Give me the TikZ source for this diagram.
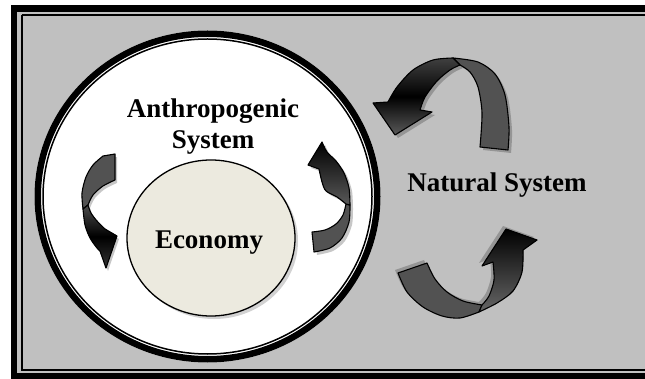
\documentclass[tikz,border=0pt]{standalone}
\usepackage{fontspec}
\setmainfont{Liberation Serif}
\usetikzlibrary{shapes.geometric,shadows}

\definecolor{panelgray}{HTML}{C0C0C0}
\definecolor{econfill}{HTML}{ECEADF}

\tikzset{
  ribback/.style={fill=black!68, draw=black, line width=1.1pt, line join=round},
  ribfront/.style={draw=black, line width=1.1pt, line join=round},
  ribshadow/.style={fill=black, opacity=0.22},
  systext/.style={font=\bfseries\fontsize{27}{31}\selectfont, align=center, inner sep=0pt}
}

% #1 back face, #2 front face, #3 shading, #4 shadow shift
\newcommand{\ribbon}[4]{%
  \fill[ribshadow, shift={#4}] #1 #2;
  \filldraw[ribback] #1;
  \filldraw[ribfront, #3] #2;
}

\begin{document}
\begin{tikzpicture}[x=1pt,y=-1pt]
   \useasboundingbox (0,0) rectangle (645,379);
   \fill[white] (0,0) rectangle (645,379);

   % frame
   \fill[black] (11,5) rectangle (645,379);
   \fill[panelgray] (17,12) rectangle (645,373);
   \draw[line width=2pt] (21.5,14.8) -- (650,14.8);
   \draw[line width=2pt] (21.5,14.8) -- (21.5,369.8) -- (650,369.8);

   % anthropogenic system
   \fill[white] (207.5,196.5) ellipse [x radius=173pt, y radius=166pt];
   \draw[line width=6.5pt] (207.5,196.5) ellipse [x radius=169.75pt, y radius=162.75pt];
   \draw[line width=1.5pt] (207.5,196.5) ellipse [x radius=164.5pt, y radius=157.5pt];

   \node[ellipse, draw, line width=1.3pt, fill=econfill, minimum width=168pt,
     minimum height=156pt, drop shadow={shadow xshift=3pt, shadow yshift=-3pt, opacity=0.35}]
     (econ) at (211,238) {};
   \node[systext, anchor=base] (econtext) at (209,249) {Economy};
   \node[systext] (anthro) at (213,127) {Anthropogenic\\System};
   \node[systext, anchor=base] (natural) at (497,192) {Natural System};

   % inner arrows
   \ribbon{(103,156) -- (115,154) -- (115,180) -- plot[smooth] coordinates {(115,180) (103,186) (93,195) (88,205)}
     -- (83,209) -- plot[smooth] coordinates {(83,209) (82,193) (86,177) (93,165) (103,156)} -- cycle}
     {(83,209) -- plot[smooth] coordinates {(83,209) (85,225) (90,238) (97,248) (100,251)}
     -- (106,268) -- (117,236) -- (105,229) -- plot[smooth] coordinates {(105,229) (97,221) (91,213) (88,205)} -- cycle}
     {top color=black!70, bottom color=black!80, middle color=black}{(2,3)}

   \ribbon{(312,232) -- (314,252) -- plot[smooth] coordinates {(314,252) (330,248) (342,238) (349,222) (350,205)}
     -- (346,204) -- plot[smooth] coordinates {(346,204) (343,215) (336,224) (325,230) (312,232)} -- cycle}
     {(350,205) -- plot[smooth] coordinates {(350,205) (349,188) (344,173) (336,161) (327,152) (322,142)}
     -- (308,165) -- (319,169) -- plot[smooth] coordinates {(319,169) (322,182) (326,191) (337,197) (346,204)} -- cycle}
     {top color=black, bottom color=black!65}{(3,3)}

   % outer arrows
   \ribbon{(480,147) -- (508,150) -- plot[smooth] coordinates {(508,150) (509,127) (505,95) (495,74) (478,62) (453,58)}
     -- (460,65) -- plot[smooth] coordinates {(460,65) (470,72) (478,87) (482,113) (480,147)} -- cycle}
     {(453,58) -- plot[smooth] coordinates {(453,58) (433,60) (413,70) (397,87) (388,102)}
     -- (373,103) -- (395,135) -- (432,112) -- (420,110) -- plot[smooth] coordinates {(420,110) (425,97) (437,81) (450,70) (460,65)} -- cycle}
     {top color=black!75, bottom color=black!65, middle color=black}{(3,3)}

   \ribbon{(398,273) -- (427,263) -- plot[smooth] coordinates {(427,263) (435,279) (447,292) (463,301) (482,305)}
     -- (479,312) -- plot[smooth] coordinates {(479,312) (460,318) (442,316) (423,307) (407,292) (398,273)} -- cycle}
     {(482,305) -- plot[smooth] coordinates {(482,305) (489,296) (494,280) (493,262)}
     -- (482,266) -- (506,229) -- (537,240) -- plot[smooth] coordinates {(523,250) (522,272) (513,291) (497,303) (479,312)} -- cycle}
     {top color=black, bottom color=black!60}{(-3,-3)}

\end{tikzpicture}
\end{document}
